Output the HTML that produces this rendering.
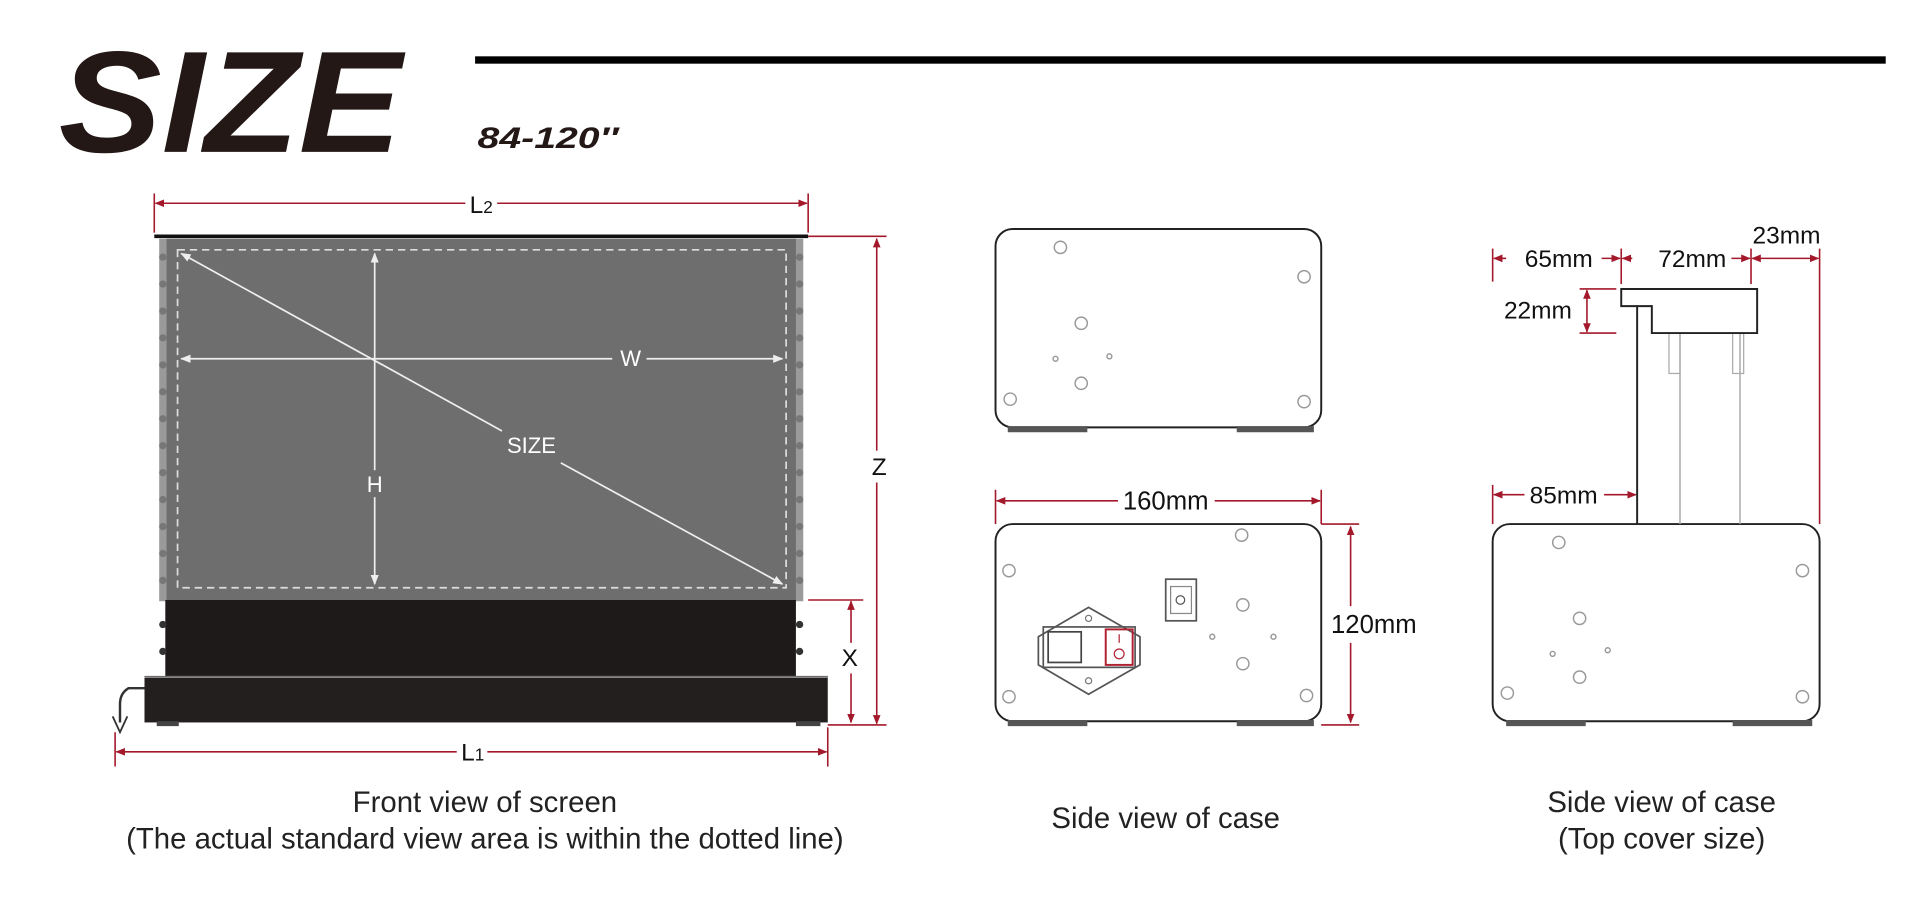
<!DOCTYPE html>
<html><head><meta charset="utf-8"><style>
html,body{margin:0;padding:0;background:#fff;width:1920px;height:900px;overflow:hidden}
svg{display:block}
text{font-family:"Liberation Sans","DejaVu Sans",sans-serif}
</style></head><body>
<svg width="1920" height="900" viewBox="0 0 1568 735" xmlns="http://www.w3.org/2000/svg">
<defs>
<marker id="a" viewBox="0 0 10 10" refX="9" refY="5" markerWidth="6" markerHeight="6" orient="auto-start-reverse"><path d="M0,1 L10,5 L0,9 z" fill="#a3182a"/></marker>
<marker id="w" viewBox="0 0 10 10" refX="9" refY="5" markerWidth="6" markerHeight="6" orient="auto-start-reverse"><path d="M0,1 L10,5 L0,9 z" fill="#eee"/></marker>
</defs>
<rect width="1568" height="735" fill="#fff"/>
<text x="48" y="124" font-size="118" font-weight="bold" font-style="italic" fill="#231816" textLength="280" lengthAdjust="spacingAndGlyphs">SIZE</text>
<rect x="388" y="46" width="1152" height="6" fill="#000"/>
<text x="390" y="121" font-size="24" font-weight="bold" font-style="italic" fill="#231816" textLength="115" lengthAdjust="spacingAndGlyphs">84-120″</text>

<g stroke="#a3182a" stroke-width="1.3" fill="none">
<line x1="126" y1="158" x2="126" y2="190"/><line x1="660" y1="158" x2="660" y2="190"/>
<line x1="127" y1="166" x2="380" y2="166" marker-start="url(#a)"/><line x1="406" y1="166" x2="659" y2="166" marker-end="url(#a)"/>
<line x1="660" y1="193" x2="724" y2="193"/><line x1="676" y1="592" x2="724" y2="592"/>
<line x1="716" y1="195" x2="716" y2="368" marker-start="url(#a)"/><line x1="716" y1="394" x2="716" y2="591" marker-end="url(#a)"/>
<line x1="660" y1="490" x2="705" y2="490"/>
<line x1="695" y1="491" x2="695" y2="525" marker-start="url(#a)"/><line x1="695" y1="550" x2="695" y2="590" marker-end="url(#a)"/>
<line x1="94" y1="598" x2="94" y2="626"/><line x1="676" y1="594" x2="676" y2="626"/>
<line x1="95" y1="614" x2="373" y2="614" marker-start="url(#a)"/><line x1="398" y1="614" x2="675" y2="614" marker-end="url(#a)"/>
<line x1="813" y1="400" x2="813" y2="428"/><line x1="1079" y1="400" x2="1079" y2="428"/>
<line x1="814" y1="409" x2="913" y2="409" marker-start="url(#a)"/><line x1="992" y1="409" x2="1078" y2="409" marker-end="url(#a)"/>
<line x1="1079" y1="428" x2="1110" y2="428"/><line x1="1079" y1="592" x2="1110" y2="592"/>
<line x1="1103" y1="430" x2="1103" y2="495" marker-start="url(#a)"/><line x1="1103" y1="525" x2="1103" y2="590" marker-end="url(#a)"/>
<line x1="1219" y1="203" x2="1219" y2="230"/><line x1="1219" y1="396" x2="1219" y2="428"/>
<line x1="1324" y1="203" x2="1324" y2="232"/><line x1="1430" y1="203" x2="1430" y2="232"/>
<line x1="1486" y1="203" x2="1486" y2="428"/>
<line x1="1220" y1="211" x2="1230" y2="211" marker-start="url(#a)"/><line x1="1308" y1="211" x2="1323" y2="211" marker-end="url(#a)"/>
<line x1="1325" y1="211" x2="1333" y2="211" marker-start="url(#a)"/><line x1="1414" y1="211" x2="1429" y2="211" marker-end="url(#a)"/>
<line x1="1431" y1="211" x2="1485" y2="211" marker-start="url(#a)" marker-end="url(#a)"/>
<line x1="1290" y1="236" x2="1320" y2="236"/><line x1="1290" y1="272" x2="1320" y2="272"/>
<line x1="1296" y1="237" x2="1296" y2="271" marker-start="url(#a)" marker-end="url(#a)"/>
<line x1="1220" y1="404" x2="1245" y2="404" marker-start="url(#a)"/><line x1="1310" y1="404" x2="1336" y2="404" marker-end="url(#a)"/>
</g>
<g font-size="20" fill="#111" text-anchor="middle">
<text x="393" y="174">L<tspan font-size="14">2</tspan></text>
<text x="718" y="388">Z</text>
<text x="694" y="544">X</text>
<text x="386" y="621">L<tspan font-size="14">1</tspan></text>
<text x="952" y="416" font-size="21">160mm</text>
<text x="1122" y="517" font-size="21">120mm</text>
<text x="1273" y="218">65mm</text>
<text x="1382" y="218">72mm</text>
<text x="1459" y="199">23mm</text>
<text x="1256" y="260">22mm</text>
<text x="1277" y="411">85mm</text>
</g>

<rect x="130" y="195" width="526" height="296" fill="#9a9a9a"/>
<rect x="136" y="195" width="514" height="296" fill="#6e6e6e"/>
<g fill="#777">
<circle cx="133" cy="210" r="3"/><circle cx="133" cy="232" r="3"/><circle cx="133" cy="254" r="3"/><circle cx="133" cy="276" r="3"/><circle cx="133" cy="298" r="3"/><circle cx="133" cy="320" r="3"/><circle cx="133" cy="342" r="3"/><circle cx="133" cy="364" r="3"/><circle cx="133" cy="386" r="3"/><circle cx="133" cy="408" r="3"/><circle cx="133" cy="430" r="3"/><circle cx="133" cy="452" r="3"/><circle cx="133" cy="474" r="3"/>
<circle cx="653" cy="210" r="3"/><circle cx="653" cy="232" r="3"/><circle cx="653" cy="254" r="3"/><circle cx="653" cy="276" r="3"/><circle cx="653" cy="298" r="3"/><circle cx="653" cy="320" r="3"/><circle cx="653" cy="342" r="3"/><circle cx="653" cy="364" r="3"/><circle cx="653" cy="386" r="3"/><circle cx="653" cy="408" r="3"/><circle cx="653" cy="430" r="3"/><circle cx="653" cy="452" r="3"/><circle cx="653" cy="474" r="3"/>
</g>
<line x1="126" y1="193" x2="660" y2="193" stroke="#111" stroke-width="3"/>
<rect x="145" y="204" width="497" height="276" fill="none" stroke="#ddd" stroke-width="1.4" stroke-dasharray="6,4"/>
<g stroke="#eee" stroke-width="1.4">
<line x1="306" y1="207" x2="306" y2="384" marker-start="url(#w)"/><line x1="306" y1="406" x2="306" y2="477" marker-end="url(#w)"/>
<line x1="148" y1="293" x2="500" y2="293" marker-start="url(#w)"/><line x1="528" y1="293" x2="639" y2="293" marker-end="url(#w)"/>
<line x1="148" y1="207" x2="410" y2="352" marker-start="url(#w)"/><line x1="458" y1="378" x2="639" y2="477" marker-end="url(#w)"/>
</g>
<g fill="#fff" font-size="18" text-anchor="middle">
<text x="306" y="402">H</text><text x="515" y="299">W</text><text x="434" y="370">SIZE</text>
</g>
<rect x="135" y="490" width="515" height="62" fill="#1f1a1a"/>
<circle cx="133" cy="510" r="3" fill="#333"/><circle cx="133" cy="532" r="3" fill="#333"/><circle cx="653" cy="510" r="3" fill="#333"/><circle cx="653" cy="532" r="3" fill="#333"/>
<rect x="118" y="552" width="558" height="38" fill="#231f1f"/>
<line x1="118" y1="553" x2="676" y2="553" stroke="#888" stroke-width="1.5"/>
<rect x="128" y="589" width="18" height="4" fill="#444"/><rect x="650" y="589" width="20" height="4" fill="#444"/>
<path d="M118,562 L105,562 Q98,566 98,575 L98,590" fill="none" stroke="#333" stroke-width="2"/>
<path d="M92,585 L98,598 L104,585" fill="none" stroke="#333" stroke-width="1.5"/>

<g fill="none" stroke="#222" stroke-width="1.6">
<rect x="813" y="187" width="266" height="162" rx="14"/>
<rect x="813" y="428" width="266" height="161" rx="14"/>
<rect x="1219" y="428" width="267" height="161" rx="14"/>
</g>
<g fill="#555">
<rect x="823" y="348" width="65" height="5"/><rect x="1010" y="348" width="63" height="5"/>
<rect x="823" y="588" width="65" height="5"/><rect x="1010" y="588" width="63" height="5"/>
<rect x="1230" y="588" width="65" height="5"/><rect x="1415" y="588" width="65" height="5"/>
</g>
<g fill="none" stroke="#999" stroke-width="1.2">
<circle cx="866" cy="202" r="5"/><circle cx="1065" cy="226" r="5"/><circle cx="883" cy="264" r="5"/><circle cx="825" cy="326" r="5"/><circle cx="1065" cy="328" r="5"/><circle cx="883" cy="313" r="5"/><circle cx="862" cy="293" r="2"/><circle cx="906" cy="291" r="2"/>
<circle cx="1014" cy="437" r="5"/><circle cx="824" cy="466" r="5"/><circle cx="1015" cy="494" r="5"/><circle cx="1040" cy="520" r="2"/><circle cx="990" cy="520" r="2"/><circle cx="1015" cy="542" r="5"/><circle cx="824" cy="569" r="5"/><circle cx="1067" cy="568" r="5"/>
<circle cx="1273" cy="443" r="5"/><circle cx="1472" cy="466" r="5"/><circle cx="1290" cy="505" r="5"/><circle cx="1313" cy="531" r="2"/><circle cx="1268" cy="534" r="2"/><circle cx="1290" cy="553" r="5"/><circle cx="1231" cy="566" r="5"/><circle cx="1472" cy="569" r="5"/>
</g>
<rect x="952" y="473" width="25" height="34" fill="none" stroke="#555" stroke-width="1.4"/>
<rect x="956" y="479" width="17" height="22" fill="none" stroke="#888"/>
<circle cx="964" cy="490" r="3.5" fill="none" stroke="#555"/>
<path d="M889,496 L931,520 L931,543 L889,567 L848,543 L848,520 Z" fill="none" stroke="#555" stroke-width="1.4"/>
<rect x="852" y="512" width="75" height="33" fill="none" stroke="#555" stroke-width="1.4"/>
<rect x="856" y="516" width="27" height="25" fill="none" stroke="#444" stroke-width="1.4"/>
<rect x="903" y="514" width="22" height="29" fill="none" stroke="#b02030" stroke-width="1.6"/>
<line x1="914" y1="518" x2="914" y2="525" stroke="#b02030"/><circle cx="914" cy="534" r="4" fill="none" stroke="#b02030"/>
<circle cx="889" cy="505" r="2.5" fill="none" stroke="#777"/><circle cx="889" cy="556" r="2.5" fill="none" stroke="#777"/>
<line x1="1337" y1="250" x2="1337" y2="428" stroke="#222" stroke-width="1.6"/>
<line x1="1372" y1="272" x2="1372" y2="428" stroke="#aaa" stroke-width="1.2"/>
<line x1="1421" y1="272" x2="1421" y2="428" stroke="#aaa" stroke-width="1.2"/>
<rect x="1363" y="272" width="9" height="33" fill="none" stroke="#aaa"/><rect x="1415" y="272" width="9" height="33" fill="none" stroke="#aaa"/>
<path d="M1324,236 L1435,236 L1435,272 L1349,272 L1349,250 L1324,250 Z" fill="#fff" stroke="#222" stroke-width="1.6"/>
<g font-size="24" fill="#222" text-anchor="middle">
<text x="396" y="663">Front view of screen</text>
<text x="396" y="693" textLength="586" lengthAdjust="spacingAndGlyphs">(The actual standard view area is within the dotted line)</text>
<text x="952" y="676">Side view of case</text>
<text x="1357" y="663">Side view of case</text>
<text x="1357" y="693">(Top cover size)</text>
</g>
</svg>
</body></html>
